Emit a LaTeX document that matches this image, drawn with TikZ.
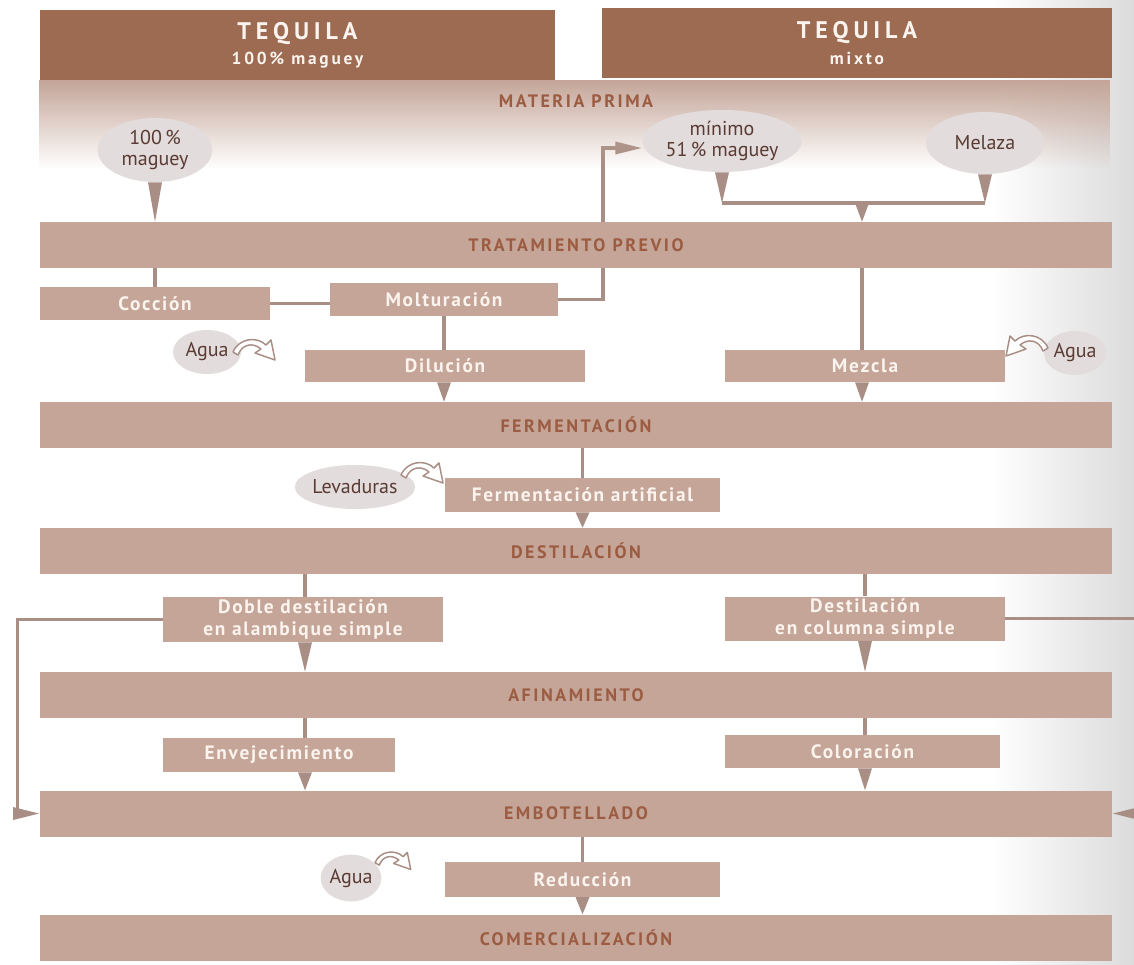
\documentclass[tikz,border=0pt]{standalone}
\usepackage{fontspec}
\setmainfont{PT Sans}
\newfontfamily\bandfont[LetterSpace=14]{PT Sans}
\newfontfamily\boxfont[LetterSpace=9]{PT Sans}
\newfontfamily\headfont[LetterSpace=20]{PT Sans}
\newfontfamily\subfont[LetterSpace=16]{PT Sans}
\usetikzlibrary{arrows.meta,calc,shapes.geometric,fadings}

\pgfdeclarelayer{background}
\pgfsetlayers{background,main}

\definecolor{headc}{HTML}{9D6A52}
\definecolor{bandc}{HTML}{C4A598}
\definecolor{bandtxt}{HTML}{9C5C42}
\definecolor{boxtxt}{HTML}{FBF4EE}
\definecolor{blobc}{HTML}{E2DDDC}
\definecolor{blobtxt}{HTML}{5A3A32}
\definecolor{linec}{HTML}{A88E84}

\tikzfading[name=fadedown, top color=transparent!0, bottom color=transparent!100]

\tikzset{
  head/.style={fill=headc, inner sep=0, text=boxtxt, align=center,
    font=\fontsize{16}{19}\selectfont},
  band/.style={fill=bandc, minimum width=804pt, minimum height=34.5pt, inner sep=0,
    font=\bandfont\bfseries\fontsize{13.5}{15}\selectfont, text=bandtxt},
  stepbox/.style={fill=bandc, inner sep=0, align=center,
    font=\boxfont\bfseries\fontsize{14.5}{16.5}\selectfont, text=boxtxt},
  blob/.style={ellipse, fill=blobc, inner sep=0, align=center,
    font=\fontsize{15}{16}\selectfont, text=blobtxt},
  conn/.style={draw=linec, line width=2.4pt},
  tip/.style={-{Triangle[length=20pt,width=9pt]}},
  tri/.style={to path={($(\tikztostart)+(-7,0)$) -- (\tikztotarget) -- ($(\tikztostart)+(7,0)$) -- cycle}},
  bentarrow/.pic={
    \filldraw[fill=white, draw=linec, line width=1.1pt, line join=round]
      (0,16) .. controls (6,2) and (24,0) .. (33,9) -- (38,4) -- (42,24)
      -- (22,17) -- (28,13) .. controls (20,6) and (9,8) .. (5,19) -- cycle;
  }
}

\begin{document}
\begin{tikzpicture}[x=0.75pt,y=-0.75pt]
\useasboundingbox (0,0) rectangle (1134,964);
\begin{pgfonlayer}{background}
\fill[white] (0,0) rectangle (1134,964);
% page shading towards the right edge
\shade[left color=white, right color=black!14] (990,0) rectangle (1134,964);
\end{pgfonlayer}

% column headers
\node[head, minimum width=386pt, minimum height=52.5pt] (h1) at (297.5,45)
  {{\headfont\bfseries\fontsize{18}{19}\selectfont TEQUILA}\\{\subfont\bfseries\fontsize{13}{19}\selectfont 100\,\% maguey}};
\node[head, minimum width=382.5pt, minimum height=52.5pt] (h2) at (857,43)
  {{\headfont\bfseries\fontsize{18}{19}\selectfont TEQUILA}\\{\subfont\bfseries\fontsize{13}{19}\selectfont mixto}};

% raw material band, fading downwards
\fill[bandc, path fading=fadedown] (40,80) rectangle (1112,168);
\node[font=\bandfont\bfseries\fontsize{13.5}{15}\selectfont, text=bandtxt] (mp) at (576,101) {MATERIA PRIMA};

% raw materials
\node[blob, minimum width=86pt, minimum height=48pt] (e100) at (155,150) {100\,\%\\maguey};
\node[blob, minimum width=105pt, minimum height=46.5pt] (emin) at (722,141) {mínimo\\51\,\% maguey};
\node[blob, minimum width=88.5pt, minimum height=46.5pt] (emel) at (985,143) {Melaza};

% process bands
\node[band] (trat) at (576,245) {TRATAMIENTO PREVIO};
\node[band] (ferm) at (576,425) {FERMENTACIÓN};
\node[band] (dest) at (576,551) {DESTILACIÓN};
\node[band] (afin) at (576,695) {AFINAMIENTO};
\node[band] (embo) at (576,813.5) {EMBOTELLADO};
\node[band] (come) at (576,937.5) {COMERCIALIZACIÓN};

% process steps
\node[stepbox, minimum width=172.5pt, minimum height=24.75pt] (cocc) at (155,303.5) {Cocción};
\node[stepbox, minimum width=171pt, minimum height=24.75pt] (molt) at (444,299.5) {Molturación};
\node[stepbox, minimum width=210pt, minimum height=24pt] (dilu) at (445,366) {Dilución};
\node[stepbox, minimum width=210pt, minimum height=24pt] (mezc) at (865,366) {Mezcla};
\node[stepbox, minimum width=206pt, minimum height=25.5pt] (fart) at (582.5,495) {Fermentación artificial};
\node[stepbox, minimum width=210pt, minimum height=33.75pt] (dobl) at (303,619.5) {Doble destilación\\en alambique simple};
\node[stepbox, minimum width=210pt, minimum height=33pt] (colu) at (865,618.5) {Destilación\\en columna simple};
\node[stepbox, minimum width=174pt, minimum height=25.5pt] (enve) at (279,755) {Envejecimiento};
\node[stepbox, minimum width=206pt, minimum height=24.75pt] (colo) at (862.5,751.5) {Coloración};
\node[stepbox, minimum width=206pt, minimum height=26pt] (redu) at (582.5,879.5) {Reducción};

% additives
\node[blob, minimum width=51pt, minimum height=33pt] (agua1) at (207,352) {Agua};
\node[blob, minimum width=46.5pt, minimum height=33pt] (agua2) at (1075,353) {Agua};
\node[blob, minimum width=80pt, minimum height=33pt] (leva) at (355,487) {Levaduras};
\node[blob, minimum width=42pt, minimum height=35pt] (agua3) at (351,878) {Agua};

\pic at (233,336) {bentarrow};
\pic[xscale=-1] at (1048,332) {bentarrow};
\pic at (401,459) {bentarrow};
\pic[scale=0.85] at (375,849) {bentarrow};

% raw material flows
\fill[linec] (e100.south) to[tri] (e100.south |- trat.north);
\coordinate (jn) at (862,203);
\fill[linec] (emin.south) to[tri] (emin.south |- jn);
\fill[linec] (emel.south) to[tri] (emel.south |- jn);
\draw[conn] (emin.south |- jn) -- (emel.south |- jn);
\fill[linec] (jn) to[tri] (jn |- trat.north);

% pre-treatment; the return to the mixed line runs behind the band
\draw[conn] (cocc.north |- trat.south) -- (cocc.north);
\draw[conn] (cocc.east) -- (cocc.east -| molt.west);
\coordinate (mturn) at (603,148);
\begin{pgfonlayer}{background}
\draw[conn, tip] (molt.east) -| (mturn) -- (mturn -| emin.west);
\end{pgfonlayer}
\draw[conn] (molt.south) -- (dilu.north -| molt.south);
\fill[linec] (dilu.south -| molt.south) to[tri] (ferm.north -| molt.south);
\draw[conn] (trat.south -| jn) -- (mezc.north -| jn);
\fill[linec] (mezc.south -| jn) to[tri] (ferm.north -| jn);

% fermentation
\draw[conn] (ferm.south -| fart) -- (fart.north);
\fill[linec] (fart.south) to[tri] (fart.south |- dest.north);

% distillation
\coordinate (lx) at (305,0);
\coordinate (rx) at (865,0);
\draw[conn] (dest.south -| lx) -- (dobl.north -| lx);
\fill[linec] (dobl.south -| lx) to[tri] (afin.north -| lx);
\draw[conn] (dest.south -| rx) -- (colu.north -| rx);
\fill[linec] (colu.south -| rx) to[tri] (afin.north -| rx);
\draw[conn, tip] (dobl.west) -- ++(-145,0) |- (embo.west);
\coordinate (redge) at (1134,618.5);
\draw[conn] (colu.east) -- (redge);
\coordinate (redge2) at (1142,813.5);
\draw[conn, tip] (redge2) -- (embo.east);

% refining
\draw[conn] (afin.south -| lx) -- (enve.north -| lx);
\fill[linec] (enve.south -| lx) to[tri] (embo.north -| lx);
\draw[conn] (afin.south -| rx) -- (colo.north -| rx);
\fill[linec] (colo.south -| rx) to[tri] (embo.north -| rx);

% bottling
\draw[conn] (embo.south -| redu) -- (redu.north);
\fill[linec] (redu.south) to[tri] (redu.south |- come.north);
\end{tikzpicture}
\end{document}
